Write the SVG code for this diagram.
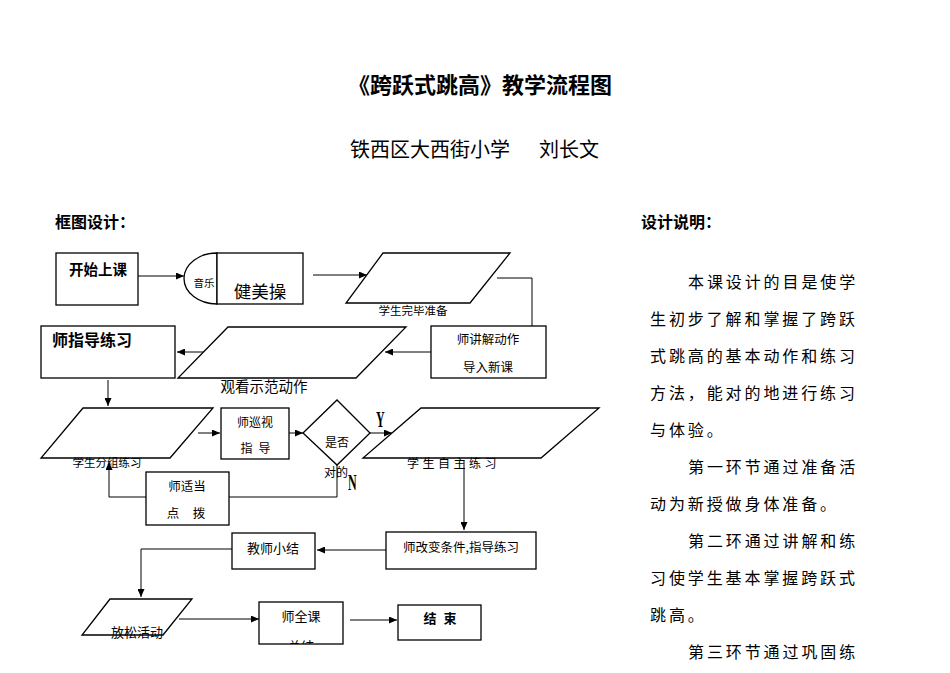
<svg xmlns="http://www.w3.org/2000/svg" width="950" height="673" viewBox="0 0 950 673">
<style>
.t{font-family:"Noto Sans CJK SC","Liberation Sans",sans-serif;fill:#000}
.ln{stroke:#000;stroke-width:1;fill:none}
.arr{marker-end:url(#ah)}
.box{fill:#fff;stroke:#000;stroke-width:1.3}
.yn{font-family:"Liberation Serif",serif;font-weight:bold;font-size:24px;fill:#000}
.body{font-size:16px;letter-spacing:2.9px}
</style>
<defs>
<marker id="ah" markerUnits="userSpaceOnUse" markerWidth="8" markerHeight="7" refX="8" refY="3.5" orient="auto">
<path d="M0,0 L8,3.5 L0,7 z" fill="#000"/>
</marker>
<clipPath id="clip15"><rect x="259" y="602" width="84" height="42"/></clipPath>
</defs>
<rect width="950" height="673" fill="#fff"/>

<g id="title">
<text class="t" x="480" y="93" font-size="22" font-weight="bold" text-anchor="middle">《跨跃式跳高》教学流程图</text>
<text class="t" y="157" font-size="20"><tspan x="350">铁西区大西街小学</tspan><tspan x="539">刘长文</tspan></text>
<text class="t" x="55" y="228" font-size="16" font-weight="bold">框图设计：</text>
<text class="t" x="641" y="228" font-size="16" font-weight="bold">设计说明：</text>
</g>

<g id="description" class="t body">
<text x="688" y="288">本课设计的目是使学</text>
<text x="650" y="325">生初步了解和掌握了跨跃</text>
<text x="650" y="362">式跳高的基本动作和练习</text>
<text x="650" y="399">方法，能对的地进行练习</text>
<text x="650" y="436">与体验。</text>
<text x="688" y="473">第一环节通过准备活</text>
<text x="650" y="510">动为新授做身体准备。</text>
<text x="688" y="547">第二环通过讲解和练</text>
<text x="650" y="584">习使学生基本掌握跨跃式</text>
<text x="650" y="621">跳高。</text>
<text x="688" y="658">第三环节通过巩固练</text>
</g>

<g id="connectors">
<path class="ln arr" d="M138,276 H184"/>
<path class="ln arr" d="M313,275 H367"/>
<path class="ln" d="M497,278 H532 V326"/>
<path class="ln arr" d="M431,352 H385"/>
<path class="ln arr" d="M205,352 H177"/>
<path class="ln arr" d="M108,380 V406"/>
<path class="ln arr" d="M198,433 H220"/>
<path class="ln arr" d="M289,433 H303"/>
<path class="ln arr" d="M370,433 H392"/>
<path class="ln arr" d="M464,460 V530"/>
<path class="ln" d="M337,465 V497 H229"/>
<path class="ln arr" d="M146,497 H109 V462"/>
<path class="ln arr" d="M386,550 H317"/>
<path class="ln arr" d="M232,549 H141 V597"/>
<path class="ln arr" d="M179,619 H259"/>
<path class="ln arr" d="M350,620 H397"/>
</g>

<g id="n1">
<rect class="box" x="56" y="253" width="82" height="52"/>
<text class="t" x="69" y="275" font-size="14.5" font-weight="600">开始上课</text>
</g>
<g id="n2">
<path class="box" d="M217,253 A33,25.5 0 0 0 217,304 Z"/>
<rect class="box" x="217" y="253" width="86" height="51"/>
<text class="t" x="204" y="287" font-size="10.5" text-anchor="middle">音乐</text>
<text class="t" x="260" y="298" font-size="17.5" text-anchor="middle">健美操</text>
</g>
<g id="n3">
<polygon class="box" points="383,253 510,253 470,303 346,303"/>
<text class="t" x="413" y="315" font-size="11.5" text-anchor="middle">学生完毕准备</text>
</g>
<g id="n4">
<rect class="box" x="431" y="326" width="115" height="52"/>
<text class="t" x="488" y="344" font-size="12.5" text-anchor="middle">师讲解动作</text>
<text class="t" x="488" y="372" font-size="12.5" text-anchor="middle">导入新课</text>
</g>
<g id="n5">
<polygon class="box" points="228,327 406,327 356,378 178,378"/>
<text class="t" x="264" y="392" font-size="14.5" text-anchor="middle">观看示范动作</text>
</g>
<g id="n6">
<rect class="box" x="41" y="326" width="134" height="52"/>
<text class="t" x="52" y="346" font-size="16" font-weight="600">师指导练习</text>
</g>
<g id="n7">
<polygon class="box" points="83,408 213,408 170,458 41,458"/>
<text class="t" x="107" y="467" font-size="11.5" text-anchor="middle">学生分组练习</text>
</g>
<g id="n8">
<rect class="box" x="221" y="408" width="68" height="51"/>
<text class="t" x="255" y="427" font-size="12" text-anchor="middle">师巡视</text>
<text class="t" x="246.5 264.5" y="453" font-size="12" text-anchor="middle">指导</text>
</g>
<g id="n9">
<polygon class="box" points="303,433 337,400 370,433 337,465"/>
<text class="t" x="337" y="447" font-size="12" text-anchor="middle">是否</text>
<text class="t" x="336" y="477" font-size="12" text-anchor="middle">对的</text>
<text class="yn" transform="translate(376,427) scale(0.5,1)">Y</text>
<text class="yn" transform="translate(348,490) scale(0.5,1)">N</text>
</g>
<g id="n10">
<polygon class="box" points="421,408 599,408 541,458 363,458"/>
<text class="t" x="407" y="468" font-size="12" letter-spacing="3.5">学生自主练习</text>
</g>
<g id="n11">
<rect class="box" x="146" y="472" width="83" height="53"/>
<text class="t" x="187" y="491" font-size="12.5" text-anchor="middle">师适当</text>
<text class="t" x="173 199" y="518" font-size="12.5" text-anchor="middle">点拨</text>
</g>
<g id="n12">
<rect class="box" x="386" y="532" width="150" height="37"/>
<text class="t" x="461" y="552" font-size="12.5" text-anchor="middle">师改变条件,指导练习</text>
</g>
<g id="n13">
<rect class="box" x="232" y="533" width="83" height="36"/>
<text class="t" x="273" y="553" font-size="13" text-anchor="middle">教师小结</text>
</g>
<g id="n14">
<polygon class="box" points="110,599 192,599 163,635 82,635"/>
<text class="t" x="137" y="637" font-size="13" text-anchor="middle">放松活动</text>
</g>
<g id="n15">
<rect class="box" x="259" y="602" width="84" height="42"/>
<text class="t" x="301" y="621" font-size="13" text-anchor="middle">师全课</text>
<text class="t" x="301" y="651" font-size="13" text-anchor="middle" clip-path="url(#clip15)">总结</text>
</g>
<g id="n16">
<rect class="box" x="398" y="605" width="83" height="35"/>
<text class="t" x="430 450" y="623" font-size="13" font-weight="600" text-anchor="middle">结束</text>
</g>
</svg>
